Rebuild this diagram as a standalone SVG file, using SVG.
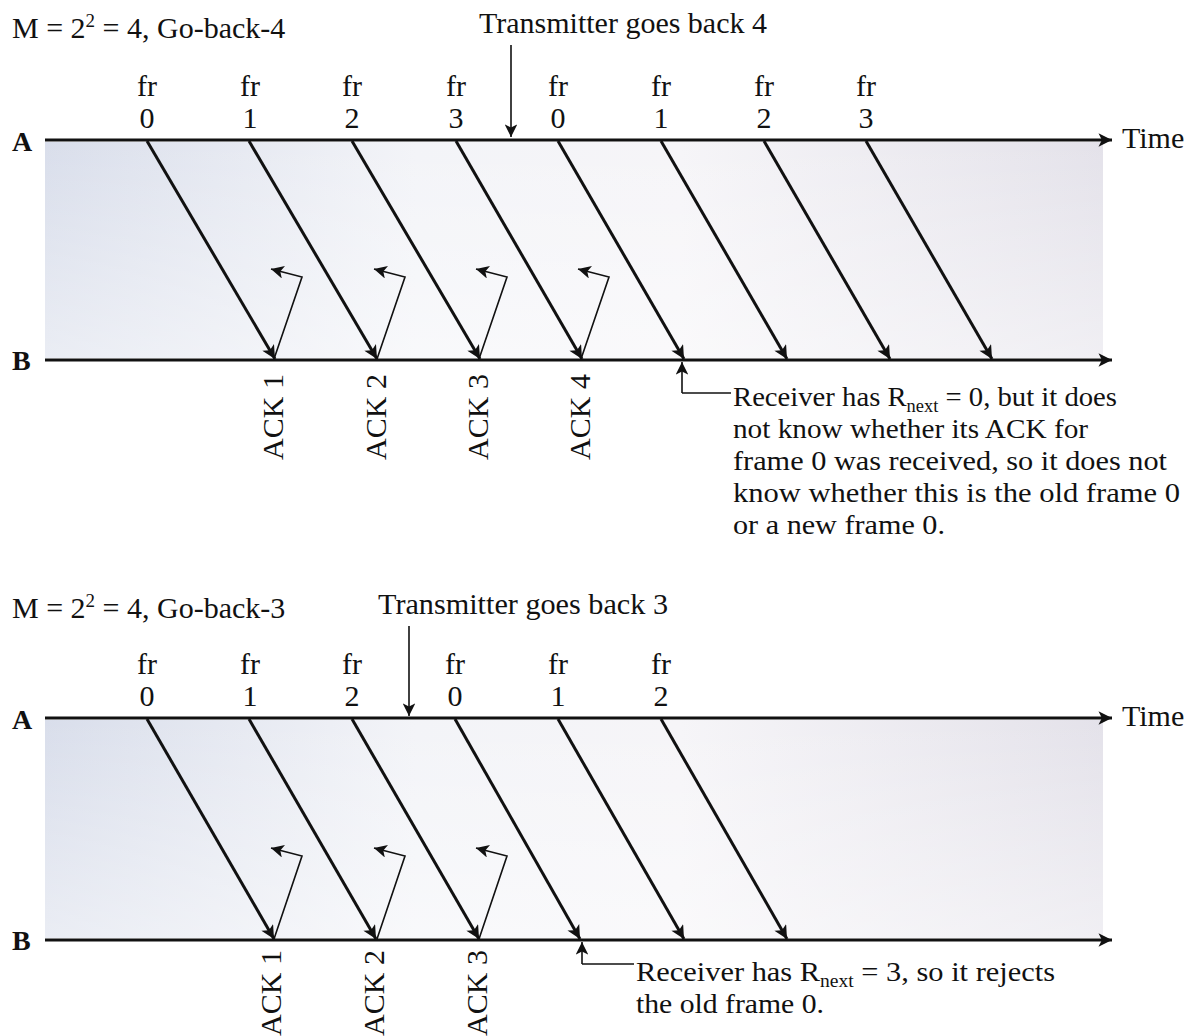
<svg xmlns="http://www.w3.org/2000/svg" width="1193" height="1036" viewBox="0 0 1193 1036">
<defs>
<linearGradient id="shade" x1="0" y1="0" x2="1" y2="0">
<stop offset="0" stop-color="#d9deeb"/>
<stop offset="0.35" stop-color="#f3f4f8"/>
<stop offset="0.6" stop-color="#f6f5f8"/>
<stop offset="1" stop-color="#e4e2ea"/>
</linearGradient>
<linearGradient id="fadev" x1="0" y1="0" x2="0" y2="1">
<stop offset="0" stop-color="#ffffff" stop-opacity="0"/>
<stop offset="1" stop-color="#ffffff" stop-opacity="0.45"/>
</linearGradient>
<marker id="ah" viewBox="0 0 10 10" refX="10" refY="5" markerWidth="6" markerHeight="4.5" orient="auto" markerUnits="strokeWidth">
<path d="M0,0 L10,5 L0,10 L2.5,5 z" fill="#111"/>
</marker>
<marker id="ahs" viewBox="0 0 10 10" refX="10" refY="5" markerWidth="10" markerHeight="8" orient="auto" markerUnits="strokeWidth">
<path d="M0,0 L10,5 L0,10 L2.5,5 z" fill="#111"/>
</marker>
</defs>
<style>
text{font-family:"Liberation Serif","Times New Roman",serif;fill:#111;font-size:30px}
.ax{stroke:#111;stroke-width:3;fill:none}
.fr{stroke:#111;stroke-width:3;fill:none;marker-end:url(#ah)}
.ack{stroke:#111;stroke-width:1.6;fill:none;marker-end:url(#ahs)}
.thin{stroke:#111;stroke-width:1.6;fill:none}
.c{text-anchor:middle}
.ab{font-weight:bold;font-size:28px}
.n{font-size:28px}
</style>
<rect width="1193" height="1036" fill="#ffffff"/>

<!-- TOP DIAGRAM -->
<g id="shade-top">
<rect x="45" y="142" width="1058" height="216" fill="url(#shade)"/>
<rect x="45" y="142" width="1058" height="216" fill="url(#fadev)"/>
</g>
<g id="title-top"><text x="12" y="38">M = 2<tspan font-size="19" dy="-11">2</tspan><tspan dy="11"> = 4, Go-back-4</tspan></text></g>
<g id="tx-top"><text x="479" y="33" textLength="288" lengthAdjust="spacingAndGlyphs">Transmitter goes back 4</text></g>
<g id="labels-top">
<text class="ab" x="12" y="151">A</text>
<text class="ab" x="12" y="370">B</text>
<text x="1122" y="148">Time</text>
</g>
<g id="frames-top-labels">
<text class="c" x="147" y="96">fr</text><text class="c" x="147" y="128">0</text>
<text class="c" x="250" y="96">fr</text><text class="c" x="250" y="128">1</text>
<text class="c" x="352" y="96">fr</text><text class="c" x="352" y="128">2</text>
<text class="c" x="456" y="96">fr</text><text class="c" x="456" y="128">3</text>
<text class="c" x="558" y="96">fr</text><text class="c" x="558" y="128">0</text>
<text class="c" x="661" y="96">fr</text><text class="c" x="661" y="128">1</text>
<text class="c" x="764" y="96">fr</text><text class="c" x="764" y="128">2</text>
<text class="c" x="866" y="96">fr</text><text class="c" x="866" y="128">3</text>
</g>
<g id="acks-top-labels">
<text class="c" transform="translate(283,417) rotate(-90)">ACK 1</text>
<text class="c" transform="translate(386,417) rotate(-90)">ACK 2</text>
<text class="c" transform="translate(488,417) rotate(-90)">ACK 3</text>
<text class="c" transform="translate(590,417) rotate(-90)">ACK 4</text>
</g>
<g id="note-top">
<text class="n" x="733" y="406" textLength="384" lengthAdjust="spacingAndGlyphs">Receiver has R<tspan font-size="18" dy="6">next</tspan><tspan dy="-6"> = 0, but it does</tspan></text>
<text class="n" x="733" y="438" textLength="355" lengthAdjust="spacingAndGlyphs">not know whether its ACK for</text>
<text class="n" x="733" y="470" textLength="434" lengthAdjust="spacingAndGlyphs">frame 0 was received, so it does not</text>
<text class="n" x="733" y="502" textLength="447" lengthAdjust="spacingAndGlyphs">know whether this is the old frame 0</text>
<text class="n" x="733" y="534" textLength="212" lengthAdjust="spacingAndGlyphs">or a new frame 0.</text>
</g>

<g id="connectors-top">
<line class="ax" x1="45" y1="140" x2="1112" y2="140" style="marker-end:url(#ah)"/>
<line class="ax" x1="45" y1="360" x2="1112" y2="360" style="marker-end:url(#ah)"/>
<line class="thin" x1="511" y1="45" x2="511" y2="137" style="marker-end:url(#ahs)"/>
<line class="fr" x1="147" y1="141" x2="275" y2="359"/>
<line class="fr" x1="249" y1="141" x2="377" y2="359"/>
<line class="fr" x1="352" y1="141" x2="480" y2="359"/>
<line class="fr" x1="456" y1="141" x2="582" y2="359"/>
<line class="fr" x1="558" y1="141" x2="684" y2="359"/>
<line class="fr" x1="661" y1="141" x2="787" y2="359"/>
<line class="fr" x1="764" y1="141" x2="890" y2="359"/>
<line class="fr" x1="866" y1="141" x2="992" y2="359"/>
<path class="ack" d="M274,359 L302,277 L271,269"/>
<path class="ack" d="M377,359 L405,277 L374,269"/>
<path class="ack" d="M479,359 L507,277 L476,269"/>
<path class="ack" d="M581,359 L609,277 L578,269"/>
<path class="ack" d="M682,393 L682,362"/>
<path class="thin" d="M682,393 L731,393"/>
</g>

<!-- BOTTOM DIAGRAM -->
<g id="shade-bottom">
<rect x="45" y="720" width="1058" height="218" fill="url(#shade)"/>
<rect x="45" y="720" width="1058" height="218" fill="url(#fadev)"/>
</g>
<g id="title-bottom"><text x="12" y="618">M = 2<tspan font-size="19" dy="-11">2</tspan><tspan dy="11"> = 4, Go-back-3</tspan></text></g>
<g id="tx-bottom"><text x="378" y="614" textLength="290" lengthAdjust="spacingAndGlyphs">Transmitter goes back 3</text></g>
<g id="labels-bottom">
<text class="ab" x="12" y="729">A</text>
<text class="ab" x="12" y="950">B</text>
<text x="1122" y="726">Time</text>
</g>
<g id="frames-bottom-labels">
<text class="c" x="147" y="674">fr</text><text class="c" x="147" y="706">0</text>
<text class="c" x="250" y="674">fr</text><text class="c" x="250" y="706">1</text>
<text class="c" x="352" y="674">fr</text><text class="c" x="352" y="706">2</text>
<text class="c" x="455" y="674">fr</text><text class="c" x="455" y="706">0</text>
<text class="c" x="558" y="674">fr</text><text class="c" x="558" y="706">1</text>
<text class="c" x="661" y="674">fr</text><text class="c" x="661" y="706">2</text>
</g>
<g id="acks-bottom-labels">
<text class="c" transform="translate(281,993) rotate(-90)">ACK 1</text>
<text class="c" transform="translate(384,993) rotate(-90)">ACK 2</text>
<text class="c" transform="translate(487,993) rotate(-90)">ACK 3</text>
</g>
<g id="note-bottom">
<text class="n" x="636" y="981" textLength="419" lengthAdjust="spacingAndGlyphs">Receiver has R<tspan font-size="18" dy="6">next</tspan><tspan dy="-6"> = 3, so it rejects</tspan></text>
<text class="n" x="636" y="1013" textLength="188" lengthAdjust="spacingAndGlyphs">the old frame 0.</text>
</g>

<g id="connectors-bottom">
<line class="ax" x1="45" y1="718" x2="1112" y2="718" style="marker-end:url(#ah)"/>
<line class="ax" x1="45" y1="940" x2="1112" y2="940" style="marker-end:url(#ah)"/>
<line class="thin" x1="409" y1="626" x2="409" y2="716" style="marker-end:url(#ahs)"/>
<line class="fr" x1="147" y1="719" x2="274" y2="939"/>
<line class="fr" x1="249" y1="719" x2="376" y2="939"/>
<line class="fr" x1="352" y1="719" x2="479" y2="939"/>
<line class="fr" x1="455" y1="719" x2="580" y2="939"/>
<line class="fr" x1="558" y1="719" x2="684" y2="939"/>
<line class="fr" x1="661" y1="719" x2="787" y2="939"/>
<path class="ack" d="M274,939 L302,856 L271,848"/>
<path class="ack" d="M377,939 L405,856 L374,848"/>
<path class="ack" d="M479,939 L507,856 L476,848"/>
<path class="ack" d="M582,964 L582,942"/>
<path class="thin" d="M582,964 L634,964"/>
</g>
</svg>
